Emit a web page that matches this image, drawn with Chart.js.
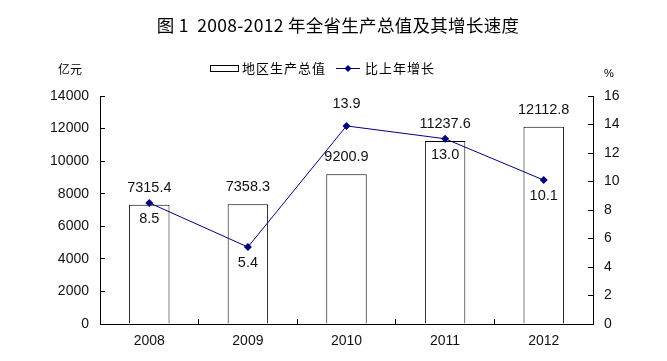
<!DOCTYPE html>
<html><head><meta charset="utf-8">
<script src="https://cdn.jsdelivr.net/npm/chart.js@4/dist/chart.umd.min.js"></script>
<style>html,body{margin:0;padding:0;background:#fff}#wrap{width:667px;height:361px}</style>
</head><body><div id="wrap"><canvas id="c" width="667" height="361"></canvas></div>
<script>
const categories = ['2008','2009','2010','2011','2012'];
const gdpValues = [7315.4, 7358.3, 9200.9, 11237.6, 12112.8];
const growthValues = [8.5, 5.4, 13.9, 13.0, 10.1];
const growthLabelPos = ['below','below','above','below','below'];
const leftTicks = [0,2000,4000,6000,8000,10000,12000,14000];
const rightTicks = [0,2,4,6,8,10,12,14,16];
const titleText = '图 1  2008-2012 年全省生产总值及其增长速度';
const seriesNames = ['地区生产总值','比上年增长'];
const leftUnit = '亿元';
const rightUnit = '%';

const NUM_FONT = '"Liberation Sans", Arial, sans-serif';
const CJK_FONT = '"Noto Sans CJK SC", sans-serif';

const deco = {
  id: 'deco',
  afterDatasetsDraw(chart) {
    const ctx = chart.ctx;
    ctx.save();
    // title
    ctx.fillStyle = '#000';
    ctx.textAlign = 'center';
    ctx.textBaseline = 'middle';
    ctx.font = '17.5px ' + CJK_FONT;
    try { ctx.letterSpacing = '0.3px'; } catch (e) {}
    ctx.fillText(titleText, 338, 25);
    try { ctx.letterSpacing = '0px'; } catch (e) {}
    // units
    ctx.font = '12px ' + CJK_FONT;
    ctx.fillText(leftUnit, 70, 69);
    ctx.font = '11px ' + NUM_FONT;
    ctx.fillText(rightUnit, 609, 74);
    // legend
    ctx.lineWidth = 1;
    ctx.strokeStyle = '#000';
    ctx.strokeRect(210.5, 65.5, 28, 6);
    ctx.textAlign = 'left';
    ctx.font = '13px ' + CJK_FONT;
    try { ctx.letterSpacing = '1px'; } catch (e) {}
    ctx.fillStyle = '#000';
    ctx.fillText(seriesNames[0], 242, 68);
    ctx.strokeStyle = '#000080';
    ctx.beginPath(); ctx.moveTo(336, 68.5); ctx.lineTo(360, 68.5); ctx.stroke();
    ctx.fillStyle = '#000080';
    ctx.beginPath(); ctx.moveTo(348, 65); ctx.lineTo(351.5, 68.5); ctx.lineTo(348, 72); ctx.lineTo(344.5, 68.5); ctx.closePath(); ctx.fill();
    ctx.fillStyle = '#000';
    ctx.fillText(seriesNames[1], 365, 68);
    try { ctx.letterSpacing = '0px'; } catch (e) {}
    // data labels
    ctx.textAlign = 'center';
    ctx.font = '14.5px ' + NUM_FONT;
    ctx.fillStyle = '#111';
    const barMeta = chart.getDatasetMeta(0);
    barMeta.data.forEach((el, i) => {
      ctx.fillText(gdpValues[i].toFixed(1), el.x, el.y - 17);
    });
    const lineMeta = chart.getDatasetMeta(1);
    lineMeta.data.forEach((el, i) => {
      const dy = growthLabelPos[i] === 'above' ? -22 : 16;
      ctx.fillText(growthValues[i].toFixed(1), el.x, el.y + dy);
    });
    ctx.restore();
  }
};

const plain = v => String(v);

new Chart(document.getElementById('c'), {
  data: {
    labels: categories,
    datasets: [
      { type: 'bar', label: seriesNames[0], data: gdpValues, yAxisID: 'y',
        backgroundColor: '#fff', borderColor: '#000', borderWidth: 1,
        categoryPercentage: 1.0, barPercentage: 0.41, order: 2 },
      { type: 'line', label: seriesNames[1], data: growthValues, yAxisID: 'y1',
        borderColor: '#000080', borderWidth: 1, backgroundColor: '#000080',
        pointStyle: 'rectRot', pointRadius: 4, pointBorderWidth: 0, tension: 0, order: 1 }
    ]
  },
  options: {
    responsive: false,
    animation: false,
    devicePixelRatio: 1,
    layout: { padding: { top: 96, left: 0, right: 0, bottom: 0 } },
    plugins: { legend: { display: false }, title: { display: false }, tooltip: { enabled: false } },
    scales: {
      x: {
        offset: true,
        grid: { display: true, drawOnChartArea: false, drawTicks: true, tickLength: -5, color: '#000', offset: true },
        border: { display: true, color: '#000', width: 1 },
        ticks: { color: '#111', font: { size: 14, family: NUM_FONT }, padding: 14 },
        afterFit(s) { s.height = 37; }
      },
      y: {
        position: 'left', min: 0, max: 14000,
        afterBuildTicks(s) { s.ticks = leftTicks.map(v => ({ value: v })); },
        grid: { display: true, drawOnChartArea: false, tickLength: -5, color: '#000' },
        border: { display: true, color: '#000', width: 1 },
        ticks: { color: '#111', font: { size: 14, family: NUM_FONT }, padding: 16, callback: plain },
        afterFit(s) { s.width = 100; }
      },
      y1: {
        position: 'right', min: 0, max: 16,
        afterBuildTicks(s) { s.ticks = rightTicks.map(v => ({ value: v })); },
        grid: { display: true, drawOnChartArea: false, tickLength: -5, color: '#000' },
        border: { display: true, color: '#000', width: 1 },
        ticks: { color: '#111', font: { size: 14, family: NUM_FONT }, padding: 16, callback: plain },
        afterFit(s) { s.width = 74; }
      }
    }
  },
  plugins: [deco]
});
</script>
</body></html>
